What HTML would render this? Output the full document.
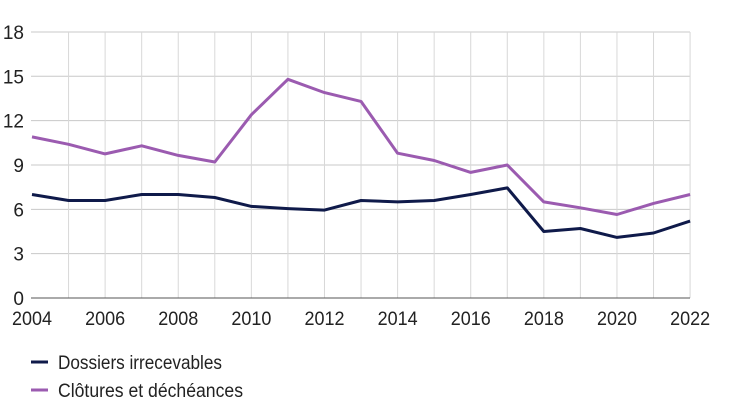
<!DOCTYPE html>
<html><head><meta charset="utf-8"><style>
body{margin:0;background:#fff;width:730px;height:410px;overflow:hidden}
text{font-family:"Liberation Sans",sans-serif;fill:#222}
</style></head><body>
<svg id="s" width="730" height="410" xmlns="http://www.w3.org/2000/svg"></svg>
<script>
const s=document.getElementById('s');
const X=y=>32+(y-2004)*36.56, Y=v=>298-v*14.78;
let h='';
for(let v=3;v<=18;v+=3)h+=`<line x1="31" x2="690" y1="${Y(v)}" y2="${Y(v)}" stroke="#c8c8c8" stroke-width="1"/>`;
for(let y=2005;y<=2022;y++)h+=`<line x1="${X(y)}" x2="${X(y)}" y1="${Y(18)}" y2="${Y(0)}" stroke="#d8d8d8" stroke-width="1"/>`;
h+=`<line x1="31" x2="690" y1="${Y(0)}" y2="${Y(0)}" stroke="#555" stroke-width="1"/>`;
for(let v=0;v<=18;v+=3)h+=`<text x="24" y="${Y(v)+7}" font-size="19" text-anchor="end">${v}</text>`;
for(let y=2004;y<=2022;y+=2)h+=`<text x="${X(y)}" y="325" font-size="19" text-anchor="middle" textLength="40" lengthAdjust="spacingAndGlyphs">${y}</text>`;
const p=[10.9,10.4,9.75,10.3,9.65,9.2,12.4,14.8,13.9,13.3,9.8,9.3,8.5,9.0,6.5,6.1,5.65,6.4,7.0];
const n=[7.0,6.6,6.6,7.0,7.0,6.8,6.2,6.05,5.95,6.6,6.5,6.6,7.0,7.45,4.5,4.7,4.1,4.4,5.2];
const pl=a=>a.map((v,i)=>X(2004+i).toFixed(1)+','+Y(v).toFixed(1)).join(' ');
h+=`<polyline points="${pl(p)}" fill="none" stroke="#9b5bb0" stroke-width="3" stroke-linejoin="round"/>`;
h+=`<polyline points="${pl(n)}" fill="none" stroke="#0f1a4a" stroke-width="3" stroke-linejoin="round"/>`;
h+=`<line x1="31" x2="48" y1="362" y2="362" stroke="#0f1a4a" stroke-width="3"/><text x="58" y="369" font-size="19" textLength="164" lengthAdjust="spacingAndGlyphs">Dossiers irrecevables</text>`;
h+=`<line x1="31" x2="48" y1="390" y2="390" stroke="#9b5bb0" stroke-width="3"/><text x="58" y="397" font-size="19" textLength="185" lengthAdjust="spacingAndGlyphs">Clôtures et déchéances</text>`;
s.innerHTML=h;
</script>
</body></html>
